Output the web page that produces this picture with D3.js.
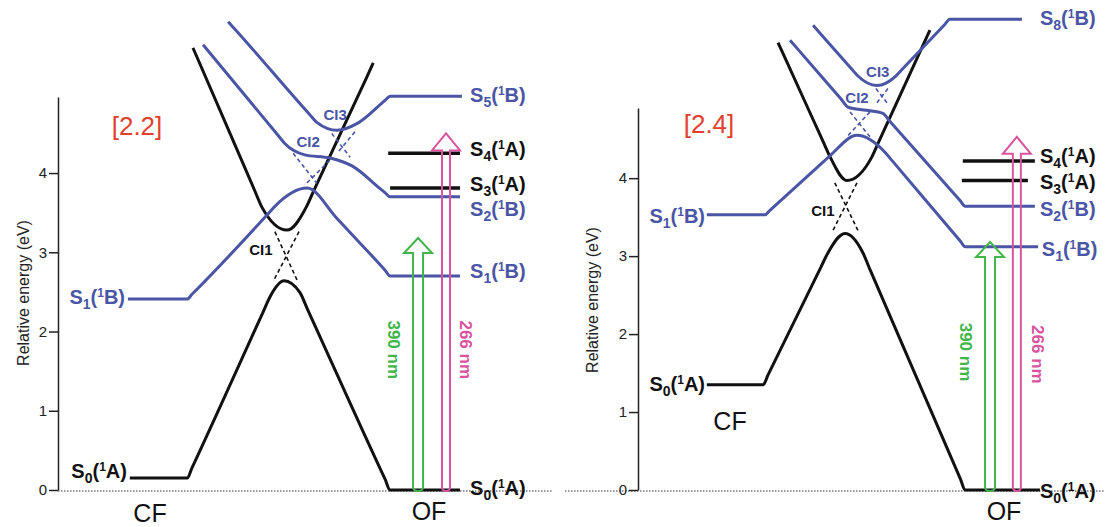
<!DOCTYPE html>
<html>
<head>
<meta charset="utf-8">
<script src="https://cdn.jsdelivr.net/npm/d3@7"></script>
<style>
  html, body { margin: 0; padding: 0; background: #fff; }
  svg { display: block; font-family: "Liberation Sans", Arial, sans-serif; }
</style>
</head>
<body>
<div id="chart"></div>
<script>
// energy ticks (eV)
const ticksE = [0, 1, 2, 3, 4];

// ---- panel [2.2] : [reaction coordinate, energy eV]
const s0_22 = [[14.9,0.15],[26.8,0.15],[27.8,0.28],[42.5,2.24],[44.0,2.44],[46.9,2.64],[50.2,2.49],[51.7,2.29],[67.9,0.13],[68.9,0],[83.4,0]];
const cone_22 = [[28.0,5.58],[29.5,5.37],[40.8,3.78],[42.3,3.57],[47.5,3.28],[51.5,3.57],[53.0,3.77],[63.9,5.19],[65.4,5.39]];
const s1_22 = [[14.5,2.41],[26.8,2.41],[27.8,2.47],[43.5,3.48],[45.0,3.58],[51.7,3.81],[57.7,3.44],[59.2,3.34],[67.9,2.77],[68.9,2.70],[83.4,2.70]];
const s2_22 = [[30.1,5.62],[31.6,5.51],[45.6,4.48],[47.1,4.37],[51.2,4.23],[56.4,4.19],[61.0,4.09],[66.7,3.81],[67.9,3.75],[68.9,3.70],[83.4,3.70]];
const s5_22 = [[35.3,5.91],[36.8,5.81],[52.2,4.74],[53.7,4.64],[57.9,4.54],[62.2,4.63],[67.9,4.92],[68.9,4.97],[83.8,4.97]];
// black OF levels [from, to, energy]
const levels_22 = [[68.5,83.4,4.25],[68.9,83.4,3.81]];
// dashed crossings [u1,E1,u2,E2,colour]
const dashes_22 = [
  [45.0,3.26,49.6,2.65,"k"],[50.0,3.26,44.8,2.65,"k"],
  [48.8,4.25,53.7,3.87,"b"],[56.4,4.16,51.2,3.85,"b"],
  [56.8,4.50,60.6,4.20,"b"],[61.6,4.52,57.9,4.25,"b"]
];
const ci_22 = [["CI1",42.1,3.04,"k"],["CI2",51.9,4.40,"b"],["CI3",57.5,4.74,"b"]];
// excitation arrows [u, tip energy, label]
const arrows_22 = [[74.7,3.18,"390 nm"],[80.5,4.50,"266 nm"]];
const arrowText_22 = [[69.7,1.77],[84.6,1.77]];
// state labels [sub, sym, u, E, colour, anchor]
const labels_22 = [
  ["1","B",13.9,2.42,"b","end"],["0","A",14.3,0.23,"k","end"],
  ["5","B",85.5,4.97,"b","start"],["4","A",85.5,4.29,"k","start"],
  ["3","A",85.5,3.85,"k","start"],["2","B",85.5,3.53,"b","start"],
  ["1","B",85.5,2.75,"b","start"],["0","A",85.5,0.01,"k","start"]
];

// ---- panel [2.4]
const s0_24 = [[14.9,1.35],[27.1,1.35],[28.1,1.47],[39.6,2.86],[41.1,3.04],[44.8,3.29],[48.7,3.04],[50.2,2.83],[69.8,0.14],[70.8,0],[87.0,0]];
const cone_24 = [[30.3,5.74],[31.8,5.545],[40.1,4.465],[41.6,4.27],[45.2,3.97],[50.6,4.27],[52.1,4.465],[61.7,5.705],[63.2,5.90]];
const s1_24 = [[14.9,3.53],[27.5,3.53],[28.5,3.584],[40.1,4.209],[41.6,4.29],[47.4,4.55],[53.5,4.33],[55.0,4.225],[69.8,3.19],[70.8,3.12],[86.6,3.12]];
const s2_24 = [[32.9,5.77],[34.4,5.668],[44.0,5.012],[45.5,4.91],[49.4,4.87],[53.0,4.83],[54.5,4.73],[69.8,3.707],[70.8,3.64],[85.9,3.64]];
const s8_24 = [[37.9,5.96],[39.4,5.86],[46.1,5.41],[47.6,5.31],[51.7,5.19],[55.8,5.31],[57.3,5.404],[66.5,5.978],[67.5,6.04],[83.1,6.04]];
const levels_24 = [[70.3,85.9,4.22],[70.1,84.4,3.97]];
const dashes_24 = [
  [42.6,3.94,47.6,3.33,"k"],[47.4,3.94,42.2,3.33,"k"],
  [45.9,4.85,50.2,4.53,"b"],[50.2,4.85,45.2,4.53,"b"],
  [51.5,5.15,54.1,4.95,"b"],[54.1,5.15,51.5,4.95,"b"]
];
const ci_24 = [["CI1",40.0,3.59,"k"],["CI2",47.4,5.04,"b"],["CI3",51.9,5.37,"b"]];
const arrows_24 = [[76.2,3.18,"390 nm"],[82.0,4.53,"266 nm"]];
const arrowText_24 = [[70.8,1.77],[86.4,1.74]];
const labels_24 = [
  ["1","B",14.5,3.50,"b","end"],["0","A",14.5,1.35,"k","end"],
  ["8","B",87.0,6.04,"b","start"],["4","A",87.0,4.27,"k","start"],
  ["3","A",87.0,3.94,"k","start"],["2","B",87.0,3.59,"b","start"],
  ["1","B",87.4,3.08,"b","start"],["0","A",87.0,-0.03,"k","start"]
];

const W = 1105, H = 527;
const col = { b: "#4a55a6", k: "#111", red: "#e2402f", green: "#3fb54b", pink: "#d9539f" };

const svg = d3.select("#chart").append("svg").attr("width", W).attr("height", H);

function stateLabel(g, x, y, sub, sym, color, anchor) {
  const t = g.append("text")
    .attr("x", x).attr("y", y)
    .attr("text-anchor", anchor)
    .style("font-size", "20px").style("font-weight", "bold")
    .style("fill", color);
  t.append("tspan").text("S");
  t.append("tspan").attr("dy", 5).style("font-size", "14px").text(sub);
  t.append("tspan").attr("dy", -5).text("(");
  t.append("tspan").attr("dy", -7).style("font-size", "12px").text("1");
  t.append("tspan").attr("dy", 7).text(sym + ")");
}

function hollowArrow(g, cx, y0, yTip, sw, hw, hh, color) {
  const p = d3.path();
  const hb = yTip + hh;
  p.moveTo(cx - sw / 2, hb);
  p.lineTo(cx - sw / 2, y0 - 3);
  p.quadraticCurveTo(cx - sw / 2, y0 + 1, cx, y0 + 1);
  p.quadraticCurveTo(cx + sw / 2, y0 + 1, cx + sw / 2, y0 - 3);
  p.lineTo(cx + sw / 2, hb);
  p.lineTo(cx + hw / 2, hb);
  p.lineTo(cx, yTip);
  p.lineTo(cx - hw / 2, hb);
  p.closePath();
  g.append("path").attr("d", p.toString())
    .attr("fill", "none").attr("stroke", color).attr("stroke-width", 2);
}

function panel(cfg) {
  const x = d3.scaleLinear().domain([0, 100]).range(cfg.xr);
  const y = d3.scaleLinear().domain([0, cfg.eTop]).range([490, cfg.yTop]);
  const g = svg.append("g");

  // dotted baseline
  g.append("line")
    .attr("x1", cfg.base[0]).attr("x2", cfg.base[1])
    .attr("y1", y(0) + 1).attr("y2", y(0) + 1)
    .attr("stroke", "#999").attr("stroke-width", 2)
    .attr("stroke-dasharray", "1.5,1.5");

  // y axis
  const ax = g.append("g")
    .attr("transform", `translate(${cfg.xr[0]},0)`)
    .call(d3.axisLeft(y).tickValues(ticksE).tickSize(9).tickSizeOuter(0).tickPadding(2).tickFormat(d3.format("d")));
  ax.select(".domain").attr("stroke", "#222").attr("stroke-width", 1.5);
  ax.selectAll(".tick line").attr("stroke", "#222").attr("stroke-width", 1.5);
  ax.selectAll(".tick text").style("font-size", "15px").style("fill", "#222");

  g.append("text")
    .attr("transform", `translate(${cfg.ylab[0]},${cfg.ylab[1]}) rotate(-90)`)
    .attr("text-anchor", "middle").attr("dominant-baseline", "central")
    .style("font-size", "16px").style("fill", "#222")
    .text("Relative energy (eV)");

  // potential curves
  const line = d3.line().x(d => x(d[0])).y(d => y(d[1])).curve(d3.curveMonotoneX);
  cfg.curves.forEach(([data, c]) => {
    g.append("path").attr("d", line(data))
      .attr("fill", "none").attr("stroke", col[c])
      .attr("stroke-width", 3).attr("stroke-linejoin", "round");
  });

  // black OF levels
  cfg.levels.forEach(([a, b, e]) => {
    g.append("line")
      .attr("x1", x(a)).attr("x2", x(b)).attr("y1", y(e)).attr("y2", y(e))
      .attr("stroke", col.k).attr("stroke-width", 3.5);
  });

  // dashed diabatic crossings
  cfg.dashes.forEach(([u1, e1, u2, e2, c]) => {
    g.append("line")
      .attr("x1", x(u1)).attr("y1", y(e1)).attr("x2", x(u2)).attr("y2", y(e2))
      .attr("stroke", col[c]).attr("stroke-width", 1.6)
      .attr("stroke-dasharray", "4,3");
  });

  cfg.ci.forEach(([t, u, e, c]) => {
    g.append("text").attr("x", x(u)).attr("y", y(e))
      .attr("text-anchor", "middle").attr("dominant-baseline", "central")
      .style("font-size", "15px").style("font-weight", "bold")
      .style("fill", col[c]).text(t);
  });

  // excitation arrows
  const ac = [col.green, col.pink];
  cfg.arrows.forEach(([u, e, t], i) => {
    hollowArrow(g, x(u), y(0), y(e), i ? 8 : 10, 28, i ? 17 : 15, ac[i]);
    const [tu, te] = cfg.arrowText[i];
    g.append("text")
      .attr("transform", `translate(${x(tu)},${y(te)}) rotate(90)`)
      .attr("text-anchor", "middle").attr("dominant-baseline", "central")
      .style("font-size", "17px").style("font-weight", "bold")
      .style("fill", ac[i]).text(t);
  });

  cfg.labels.forEach(([sub, sym, u, e, c, anchor]) => {
    stateLabel(g, x(u), y(e) + 6, sub, sym, col[c], anchor);
  });

  // panel tag and CF / OF
  g.append("text").attr("x", cfg.tag[1]).attr("y", cfg.tag[2])
    .attr("text-anchor", "middle")
    .style("font-size", "26px").style("fill", col.red).text(cfg.tag[0]);
  cfg.ends.forEach(([t, px, py]) => {
    g.append("text").attr("x", px).attr("y", py)
      .attr("text-anchor", "middle")
      .style("font-size", "25px").style("fill", "#111").text(t);
  });
}

panel({
  xr: [58, 540], eTop: 4.96, yTop: 97, base: [58, 552], ylab: [23, 293],
  curves: [[s0_22, "k"], [cone_22, "k"], [s1_22, "b"], [s2_22, "b"], [s5_22, "b"]],
  levels: levels_22, dashes: dashes_22, ci: ci_22,
  arrows: arrows_22, arrowText: arrowText_22, labels: labels_22,
  tag: ["[2.2]", 137, 135], ends: [["CF", 150, 522], ["OF", 429, 520]]
});

panel({
  xr: [638, 1100], eTop: 4.9, yTop: 108, base: [565, 1105], ylab: [592, 300],
  curves: [[s0_24, "k"], [cone_24, "k"], [s1_24, "b"], [s2_24, "b"], [s8_24, "b"]],
  levels: levels_24, dashes: dashes_24, ci: ci_24,
  arrows: arrows_24, arrowText: arrowText_24, labels: labels_24,
  tag: ["[2.4]", 709, 133], ends: [["CF", 730, 430], ["OF", 1004, 520]]
});
</script>
</body>
</html>
